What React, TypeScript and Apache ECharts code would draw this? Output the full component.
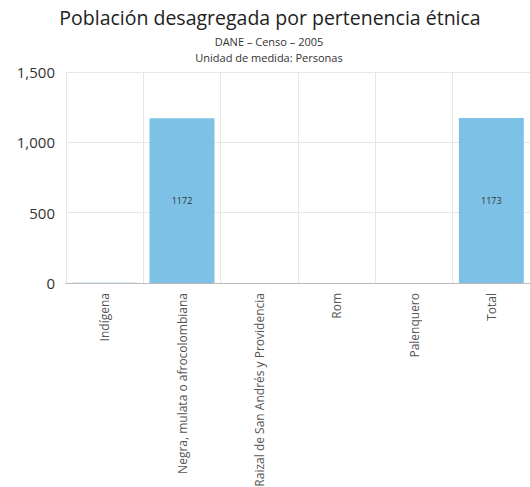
import React, { useEffect, useRef } from "react";
import * as echarts from "echarts";

const titleText = "Población desagregada por pertenencia étnica";
const subtitleLines = ["DANE – Censo – 2005", "Unidad de medida: Personas"];
const categories = [
  "Indígena",
  "Negra, mulata o afrocolombiana",
  "Raizal de San Andrés y Providencia",
  "Rom",
  "Palenquero",
  "Total",
];
const values = [1, 1172, 0, 0, 0, 1173];
const yTicks = { min: 0, max: 1500, interval: 500 };

export default function App() {
  const ref = useRef<HTMLDivElement>(null);
  useEffect(() => {
    if (!ref.current) return;
    const chart = echarts.init(ref.current, null, { renderer: "svg" });
    const font = "'Open Sans', 'Noto Sans', sans-serif";
    chart.setOption({
      animation: false,
      backgroundColor: "#ffffff",
      title: [
        {
          text: titleText,
          left: 265,
          textAlign: "center",
          top: 2,
          textStyle: { fontFamily: font, fontSize: 19.5, fontWeight: "normal", color: "#222" },
        },
        {
          text: subtitleLines.join("\n"),
          left: 264,
          textAlign: "center",
          top: 28,
          textStyle: { fontFamily: font, fontSize: 11, fontWeight: "normal", color: "#333", lineHeight: 16 },
        },
      ],
      grid: {
        left: 66,
        right: 0,
        top: 72,
        bottom: 204,
        containLabel: false,
        outerBoundsMode: "none",
      },
      xAxis: {
        type: "category",
        data: categories,
        axisTick: { show: false },
        axisLine: { show: true, lineStyle: { color: "#bbbbbb", width: 1 } },
        splitLine: { show: true, lineStyle: { color: "#e6e6e6", width: 1 } },
        axisLabel: {
          rotate: 90,
          interval: 0,
          fontFamily: font,
          fontSize: 12,
          color: "#555",
          margin: 10,
        },
      },
      yAxis: {
        type: "value",
        min: yTicks.min,
        max: yTicks.max,
        interval: yTicks.interval,
        axisLine: { show: false },
        axisTick: { show: false },
        splitLine: { lineStyle: { color: "#e6e6e6", width: 1 } },
        axisLabel: {
          fontFamily: font,
          fontSize: 15,
          color: "#333",
          margin: 11,
          formatter: (v: number) => v.toLocaleString("en-US"),
        },
      },
      series: [
        {
          type: "bar",
          data: values.map((v) => ({
            value: v,
            label: { show: v > 100 },
          })),
          barCategoryGap: "16%",
          itemStyle: { color: "#7dc2e6" },
          label: {
            show: false,
            position: "inside",
            fontFamily: font,
            fontSize: 9,
            color: "#333",
          },
        },
      ],
    });
    return () => chart.dispose();
  }, []);
  return (
    <div
      ref={ref}
      style={{ position: "absolute", left: 0, top: 0, width: 530, height: 487 }}
    />
  );
}
